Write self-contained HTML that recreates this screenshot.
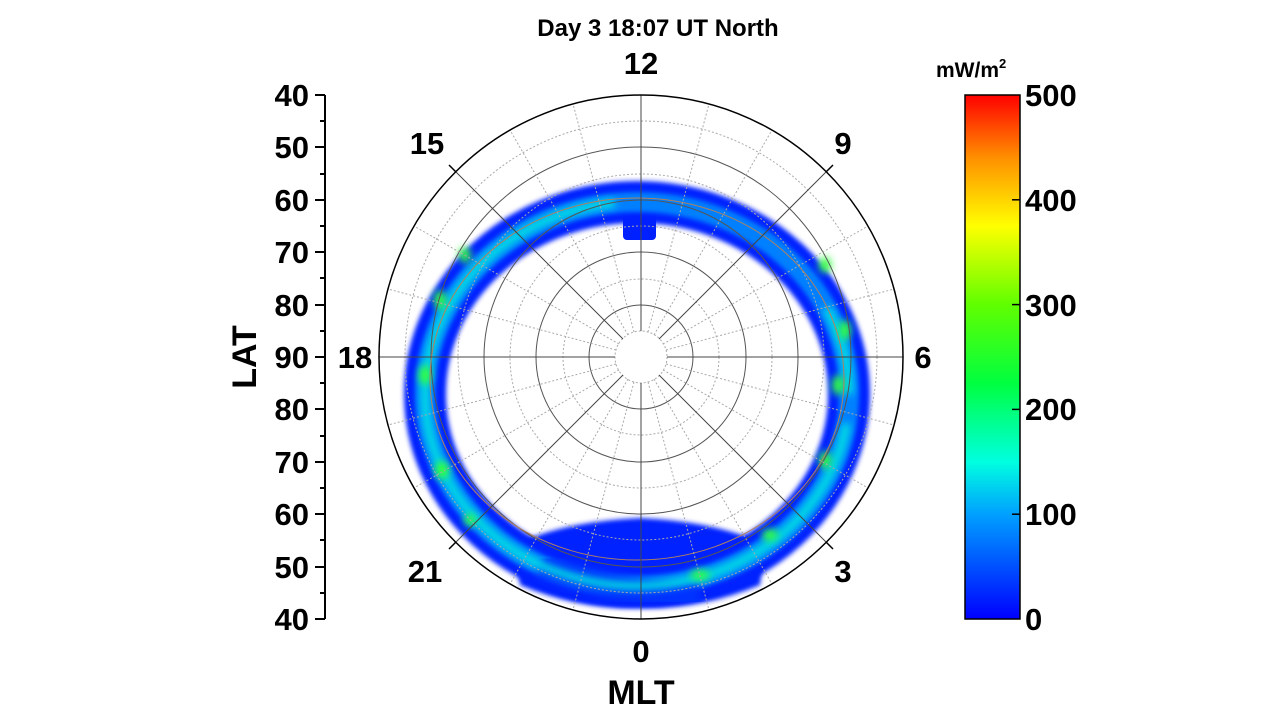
<!DOCTYPE html>
<html><head><style>
body{margin:0;background:#fff;}
text{font-family:"Liberation Sans",Arial,sans-serif;font-weight:bold;fill:#000;}
</style></head><body>
<svg width="1280" height="719" viewBox="0 0 1280 719" xmlns="http://www.w3.org/2000/svg">
<defs>
<linearGradient id="cb" x1="0" y1="1" x2="0" y2="0">
<stop offset="0" stop-color="#0000ff"/>
<stop offset="0.2" stop-color="#00a0ff"/>
<stop offset="0.3" stop-color="#00ffe0"/>
<stop offset="0.45" stop-color="#00ff40"/>
<stop offset="0.6" stop-color="#60ff00"/>
<stop offset="0.75" stop-color="#ffff00"/>
<stop offset="0.88" stop-color="#ff9000"/>
<stop offset="1" stop-color="#ff0000"/>
</linearGradient>
<filter id="bl" x="-20%" y="-20%" width="140%" height="140%"><feGaussianBlur stdDeviation="2.5"/></filter>
<filter id="bl2" x="-20%" y="-20%" width="140%" height="140%"><feGaussianBlur stdDeviation="4"/></filter>
<clipPath id="cc"><circle cx="641" cy="357" r="262"/></clipPath>
</defs>
<text x="658" y="36" font-size="24" text-anchor="middle">Day 3 18:07 UT North</text>

<!-- aurora oval -->
<g clip-path="url(#cc)">
<ellipse cx="637" cy="394" rx="212" ry="192" fill="none" stroke="#0020ff" stroke-width="42" filter="url(#bl)"/>
<path d="M515 545 Q560 522 640 518 Q720 522 765 545 L760 585 Q700 610 640 608 Q580 610 520 585Z" fill="#0020ff" filter="url(#bl)"/>
<rect x="623" y="210" width="33" height="30" rx="4" fill="#0020ff"/>
<ellipse cx="637" cy="394" rx="212" ry="192" fill="none" stroke="#0080ff" stroke-width="20" filter="url(#bl)"/>
<path d="M540 565 Q640 600 700 595" fill="none" stroke="#0030ff" stroke-width="26" filter="url(#bl2)"/>
<ellipse cx="637" cy="394" rx="212" ry="192" fill="none" stroke="#00e8e0" stroke-width="8" filter="url(#bl2)" stroke-dasharray="900 250" stroke-dashoffset="-30"/>
<g fill="#30ff40" filter="url(#bl2)">
<ellipse cx="440" cy="300" rx="6" ry="10"/><ellipse cx="425" cy="375" rx="6" ry="10"/>
<ellipse cx="442" cy="470" rx="7" ry="9"/><ellipse cx="470" cy="520" rx="6" ry="6"/>
<ellipse cx="465" cy="255" rx="6" ry="8"/><ellipse cx="825" cy="265" rx="6" ry="8"/>
<ellipse cx="845" cy="330" rx="6" ry="10"/><ellipse cx="838" cy="385" rx="6" ry="10"/>
<ellipse cx="825" cy="460" rx="6" ry="9"/><ellipse cx="770" cy="535" rx="8" ry="6"/>
<ellipse cx="700" cy="575" rx="10" ry="5"/>
</g>
</g>

<!-- grid -->
<g fill="none">
<g stroke="#aaa" stroke-width="1" stroke-dasharray="2,2">
<circle cx="641" cy="357" r="26"/><circle cx="641" cy="357" r="78"/><circle cx="641" cy="357" r="131"/><circle cx="641" cy="357" r="183"/><circle cx="641" cy="357" r="236"/>
</g>
<g stroke="#555" stroke-width="1">
<circle cx="641" cy="357" r="52"/><circle cx="641" cy="357" r="105"/><circle cx="641" cy="357" r="157"/><circle cx="641" cy="357" r="210"/>
</g>
<ellipse cx="637" cy="379" rx="207" ry="181" stroke="#b08060" stroke-width="1"/>
<g stroke="#aaa" stroke-dasharray="2,2">
<line x1="648" y1="332" x2="709" y2="104"/><line x1="654" y1="335" x2="772" y2="130"/>
<line x1="663" y1="344" x2="868" y2="226"/><line x1="666" y1="350" x2="894" y2="289"/>
<line x1="666" y1="364" x2="894" y2="425"/><line x1="663" y1="370" x2="868" y2="488"/>
<line x1="654" y1="379" x2="772" y2="584"/><line x1="648" y1="382" x2="709" y2="610"/>
<line x1="634" y1="382" x2="573" y2="610"/><line x1="628" y1="379" x2="510" y2="584"/>
<line x1="619" y1="370" x2="414" y2="488"/><line x1="616" y1="364" x2="388" y2="425"/>
<line x1="616" y1="350" x2="388" y2="289"/><line x1="619" y1="344" x2="414" y2="226"/>
<line x1="628" y1="335" x2="510" y2="130"/><line x1="634" y1="332" x2="573" y2="104"/>
</g>
<g stroke="#444" stroke-width="1">
<line x1="641" y1="95" x2="641" y2="331"/><line x1="641" y1="383" x2="641" y2="619"/>
<line x1="379" y1="357" x2="615" y2="357"/><line x1="667" y1="357" x2="903" y2="357"/>
<line x1="456" y1="172" x2="623" y2="339"/><line x1="659" y1="375" x2="826" y2="542"/>
<line x1="826" y1="172" x2="659" y2="339"/><line x1="623" y1="375" x2="456" y2="542"/>
</g>
<circle cx="641" cy="357" r="262" stroke="#000" stroke-width="1.5"/>
<g stroke="#000" stroke-width="1.5">
<line x1="826" y1="172" x2="833" y2="165"/><line x1="826" y1="542" x2="833" y2="549"/>
<line x1="456" y1="542" x2="449" y2="549"/><line x1="456" y1="172" x2="449" y2="165"/>
</g>
</g>

<g font-size="31" text-anchor="middle">
<text x="641" y="74">12</text><text x="843" y="154">9</text><text x="923" y="368">6</text>
<text x="843" y="582">3</text><text x="641" y="662">0</text><text x="425" y="582">21</text>
<text x="355" y="368">18</text><text x="427" y="154">15</text>
</g>
<text x="641" y="704" font-size="34" text-anchor="middle">MLT</text>
<text transform="translate(256,357) rotate(-90)" font-size="34" text-anchor="middle">LAT</text>

<!-- lat axis -->
<g stroke="#000" stroke-width="2">
<line x1="325" y1="95" x2="325" y2="619"/>
<line x1="315" y1="95" x2="325" y2="95"/><line x1="315" y1="147" x2="325" y2="147"/><line x1="315" y1="200" x2="325" y2="200"/><line x1="315" y1="252" x2="325" y2="252"/><line x1="315" y1="305" x2="325" y2="305"/><line x1="315" y1="357" x2="325" y2="357"/><line x1="315" y1="409" x2="325" y2="409"/><line x1="315" y1="462" x2="325" y2="462"/><line x1="315" y1="514" x2="325" y2="514"/><line x1="315" y1="567" x2="325" y2="567"/><line x1="315" y1="619" x2="325" y2="619"/>
<line x1="320" y1="121" x2="325" y2="121"/><line x1="320" y1="174" x2="325" y2="174"/><line x1="320" y1="226" x2="325" y2="226"/><line x1="320" y1="278" x2="325" y2="278"/><line x1="320" y1="331" x2="325" y2="331"/><line x1="320" y1="383" x2="325" y2="383"/><line x1="320" y1="436" x2="325" y2="436"/><line x1="320" y1="488" x2="325" y2="488"/><line x1="320" y1="540" x2="325" y2="540"/><line x1="320" y1="593" x2="325" y2="593"/>
</g>
<g font-size="31" text-anchor="end">
<text x="309" y="106">40</text><text x="309" y="158">50</text><text x="309" y="211">60</text><text x="309" y="263">70</text><text x="309" y="316">80</text><text x="309" y="368">90</text><text x="309" y="420">80</text><text x="309" y="473">70</text><text x="309" y="525">60</text><text x="309" y="578">50</text><text x="309" y="630">40</text>
</g>

<!-- colorbar -->
<rect x="965" y="95" width="55" height="524" fill="url(#cb)" stroke="#000" stroke-width="1.5"/>
<g stroke="#000" stroke-width="1.5">
<line x1="1012" y1="199.8" x2="1020" y2="199.8"/><line x1="1012" y1="304.6" x2="1020" y2="304.6"/><line x1="1012" y1="409.4" x2="1020" y2="409.4"/><line x1="1012" y1="514.2" x2="1020" y2="514.2"/>
</g>
<g font-size="31">
<text x="1025" y="106">500</text><text x="1025" y="211">400</text><text x="1025" y="316">300</text><text x="1025" y="420">200</text><text x="1025" y="525">100</text><text x="1025" y="630">0</text>
</g>
<text x="936" y="77" font-size="21">mW/m<tspan font-size="13" dy="-9">2</tspan></text>
</svg>
</body></html>
